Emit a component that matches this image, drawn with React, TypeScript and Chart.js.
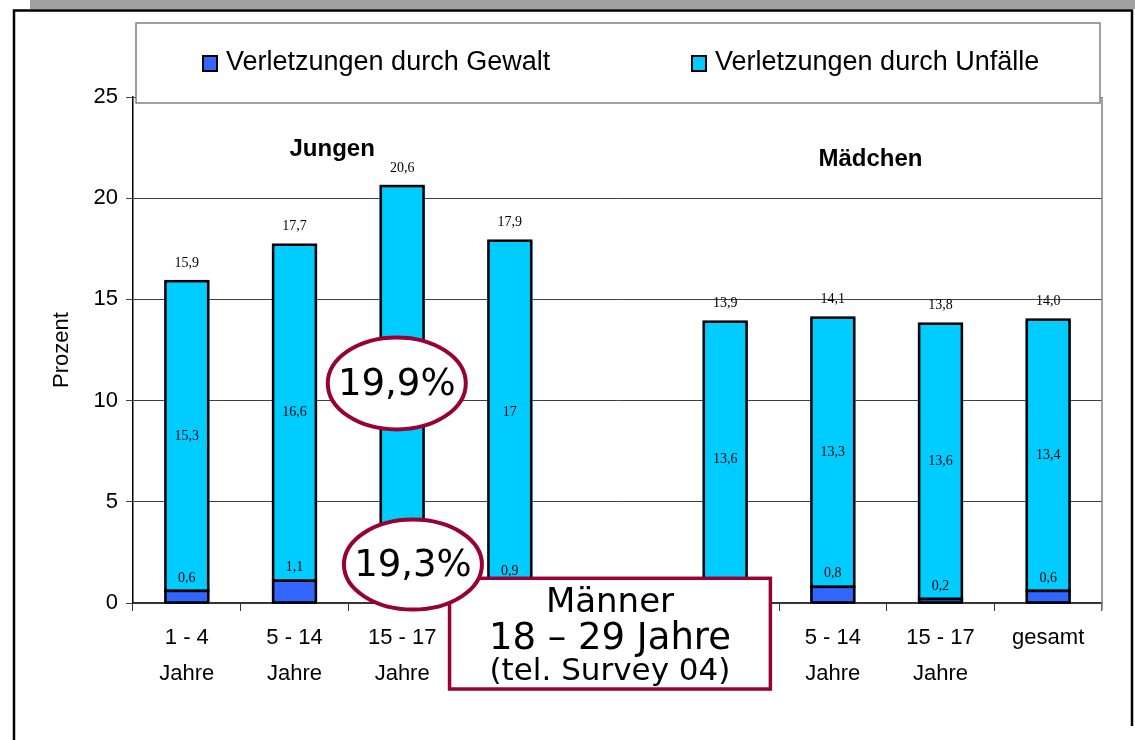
import React, { useEffect, useRef } from "react";
import { Chart, registerables } from "chart.js";
Chart.register(...registerables);

const categories: string[][] = [
  ["1 - 4", "Jahre"],
  ["5 - 14", "Jahre"],
  ["15 - 17", "Jahre"],
  ["gesamt"],
  [""],
  ["1 - 4", "Jahre"],
  ["5 - 14", "Jahre"],
  ["15 - 17", "Jahre"],
  ["gesamt"],
];
const gewalt: (number | null)[] = [0.6, 1.1, 1.4, 0.9, null, 0.3, 0.8, 0.2, 0.6];
const unfaelle: (number | null)[] = [15.3, 16.6, 19.2, 17, null, 13.6, 13.3, 13.6, 13.4];
const totals: (number | null)[] = [15.9, 17.7, 20.6, 17.9, null, 13.9, 14.1, 13.8, 14.0];
const seriesNames = ["Verletzungen durch Gewalt", "Verletzungen durch Unfälle"];
const seriesColors = ["#3366FF", "#00CCFF"];
const groupLabels = ["Jungen", "Mädchen"];
const ovalTexts = ["19,9%", "19,3%"];
const boxLines = ["Männer", "18 – 29 Jahre", "(tel. Survey 04)"];
const yMax = 25;
const yStep = 5;

const SANS = "'Liberation Sans', Arial, sans-serif";
const SERIF = "'Liberation Serif', 'Times New Roman', serif";
const VERD = "'DejaVu Sans', Verdana, sans-serif";
const MAROON = "#990033";

const fmtGeneral = (v: number) => String(v).replace(".", ",");
const fmtOne = (v: number) => v.toFixed(1).replace(".", ",");

const overlayPlugin = {
  id: "overlay",
  afterDatasetsDraw(chart: any) {
    // black outlines of the bars, drawn from the bar elements themselves
    const ctx: CanvasRenderingContext2D = chart.ctx;
    ctx.save();
    ctx.strokeStyle = "#000";
    ctx.lineWidth = 2.5;
    [0, 1].forEach((d) => {
      const meta = chart.getDatasetMeta(d);
      meta.data.forEach((bar: any, i: number) => {
        const v = d === 0 ? gewalt[i] : unfaelle[i];
        if (v == null) return;
        const left = bar.x - bar.width / 2;
        ctx.strokeRect(left + 1.25, bar.y, bar.width - 2.5, bar.base - bar.y);
      });
    });
    ctx.restore();
  },
  afterDraw(chart: any) {
    const ctx: CanvasRenderingContext2D = chart.ctx;
    const xs = chart.scales.x;
    const ys = chart.scales.y;
    const area = chart.chartArea;
    const m0 = chart.getDatasetMeta(0);
    const m1 = chart.getDatasetMeta(1);
    ctx.save();

    // plot right border
    ctx.strokeStyle = "#808080";
    ctx.lineWidth = 1.5;
    ctx.beginPath();
    ctx.moveTo(area.right, area.top);
    ctx.lineTo(area.right, area.bottom + 7);
    ctx.stroke();

    // data labels
    ctx.fillStyle = "#000";
    ctx.font = `14px ${SERIF}`;
    ctx.textAlign = "center";
    ctx.textBaseline = "middle";
    for (let i = 0; i < categories.length; i++) {
      const g = gewalt[i];
      const u = unfaelle[i];
      const t = totals[i];
      const b0 = m0.data[i];
      const b1 = m1.data[i];
      if (g != null && b0) ctx.fillText(fmtGeneral(g), b0.x, b0.y - 13);
      if (u != null && b1) ctx.fillText(fmtGeneral(u), b1.x, (b1.y + b1.base) / 2);
      if (t != null && b1) ctx.fillText(fmtOne(t), b1.x, b1.y - 18);
    }

    // group labels
    ctx.font = `bold 24px ${SANS}`;
    ctx.fillText(groupLabels[0], xs.getPixelForValue(1.35), ys.getPixelForValue(22.4));
    ctx.fillText(groupLabels[1], xs.getPixelForValue(6.35), ys.getPixelForValue(21.9));

    // legend box
    const lx = area.left + 3;
    const lr = area.right - 2;
    const lt = 23;
    const lb = 103;
    ctx.fillStyle = "#fff";
    ctx.fillRect(lx, lt, lr - lx, lb - lt);
    ctx.strokeStyle = "#808080";
    ctx.lineWidth = 1.5;
    ctx.strokeRect(lx, lt, lr - lx, lb - lt);
    const itemX = [203, 692];
    ctx.font = `27px ${SANS}`;
    ctx.textAlign = "left";
    ctx.textBaseline = "alphabetic";
    for (let k = 0; k < 2; k++) {
      ctx.fillStyle = seriesColors[k];
      ctx.fillRect(itemX[k], 56, 14, 15);
      ctx.strokeStyle = "#000";
      ctx.lineWidth = 2;
      ctx.strokeRect(itemX[k], 56, 14, 15);
      ctx.fillStyle = "#000";
      ctx.fillText(seriesNames[k], itemX[k] + 23, 70);
    }

    // Männer box
    const bxL = xs.getPixelForValue(2.44);
    const bxR = xs.getPixelForValue(5.42);
    const bxT = ys.getPixelForValue(1.22);
    const bxB = ys.getPixelForValue(-4.25);
    ctx.fillStyle = "#fff";
    ctx.fillRect(bxL, bxT, bxR - bxL, bxB - bxT);
    ctx.strokeStyle = MAROON;
    ctx.lineWidth = 3.5;
    ctx.strokeRect(bxL, bxT, bxR - bxL, bxB - bxT);
    ctx.fillStyle = "#000";
    ctx.textAlign = "center";
    ctx.textBaseline = "alphabetic";
    const bcx = (bxL + bxR) / 2;
    ctx.font = `34px ${VERD}`;
    ctx.fillText(boxLines[0], bcx, bxT + 34);
    ctx.font = `37px ${VERD}`;
    ctx.fillText(boxLines[1], bcx, bxT + 71);
    ctx.font = `31px ${VERD}`;
    ctx.fillText(boxLines[2], bcx, bxT + 102);

    // ovals
    const ovals = [
      { x: 1.95, y: 10.85, rx: 69, ry: 46 },
      { x: 2.1, y: 1.9, rx: 69, ry: 45 },
    ];
    ovals.forEach((o, k) => {
      const cx = xs.getPixelForValue(o.x);
      const cy = ys.getPixelForValue(o.y);
      ctx.beginPath();
      ctx.ellipse(cx, cy, o.rx, o.ry, 0, 0, Math.PI * 2);
      ctx.fillStyle = "#fff";
      ctx.fill();
      ctx.strokeStyle = MAROON;
      ctx.lineWidth = 4;
      ctx.stroke();
      ctx.fillStyle = "#000";
      ctx.font = `37px ${VERD}`;
      ctx.textAlign = "center";
      ctx.textBaseline = "middle";
      ctx.fillText(ovalTexts[k], cx, cy + 2);
    });

    // outer frame and top band
    ctx.fillStyle = "#A0A0A0";
    ctx.fillRect(30, 0, chart.width - 30, 9);
    ctx.strokeStyle = "#000";
    ctx.lineWidth = 2.5;
    ctx.beginPath();
    ctx.moveTo(14, chart.height);
    ctx.lineTo(14, 10.5);
    ctx.lineTo(1132, 10.5);
    ctx.lineTo(1132, 726);
    ctx.stroke();

    ctx.restore();
  },
};

export default function App() {
  const ref = useRef<HTMLCanvasElement | null>(null);
  useEffect(() => {
    if (!ref.current) return;
    const chart = new Chart(ref.current, {
      type: "bar",
      data: {
        labels: categories,
        datasets: [
          {
            label: seriesNames[0],
            data: gewalt,
            backgroundColor: seriesColors[0],
            borderWidth: 0,
            barPercentage: 0.42,
            categoryPercentage: 1,
          },
          {
            label: seriesNames[1],
            data: unfaelle,
            backgroundColor: seriesColors[1],
            borderWidth: 0,
            barPercentage: 0.42,
            categoryPercentage: 1,
          },
        ],
      },
      options: {
        responsive: false,
        animation: false,
        devicePixelRatio: 1,
        layout: { padding: { left: 0, top: 97, right: 33, bottom: 37 } },
        plugins: { legend: { display: false }, tooltip: { enabled: false } },
        scales: {
          x: {
            stacked: true,
            afterFit: (s: any) => {
              s.height = 100;
            },
            grid: {
              offset: true,
              drawOnChartArea: false,
              drawTicks: true,
              tickLength: 8,
              color: "#333",
            },
            border: { color: "#333", width: 1.5 },
            ticks: {
              color: "#000",
              padding: 9,
              maxRotation: 0,
              autoSkip: false,
              font: { family: SANS, size: 22, lineHeight: 1.62 },
            },
          },
          y: {
            stacked: true,
            min: 0,
            max: yMax,
            afterFit: (s: any) => {
              s.width = 133;
            },
            grid: { color: "#404040", lineWidth: 1, tickLength: 7 },
            border: { color: "#000", width: 1.5 },
            ticks: {
              stepSize: yStep,
              color: "#000",
              padding: 8,
              font: { family: SANS, size: 22 },
            },
            title: {
              display: true,
              text: "Prozent",
              color: "#000",
              padding: { top: 49, bottom: 0 },
              font: { family: SANS, size: 22 },
            },
          },
        },
      },
      plugins: [overlayPlugin],
    });
    return () => chart.destroy();
  }, []);
  return (
    <div style={{ position: "fixed", left: 0, top: 0, width: 1135, height: 740, background: "#fff" }}>
      <canvas ref={ref} width={1135} height={740} style={{ display: "block" }} />
    </div>
  );
}
